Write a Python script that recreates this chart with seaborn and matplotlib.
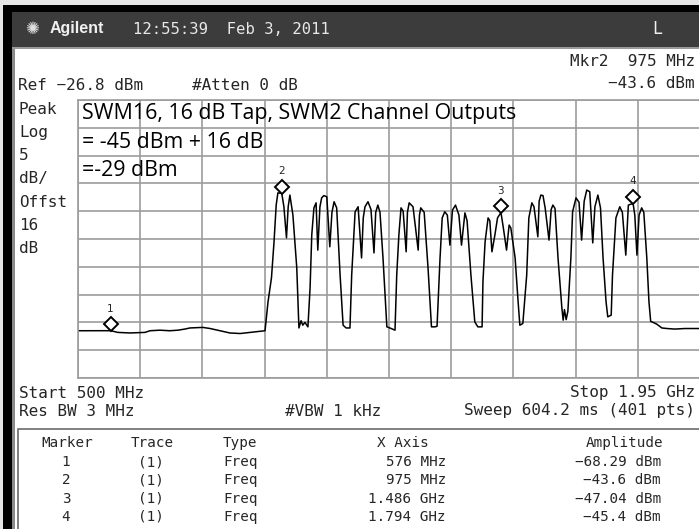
import matplotlib
matplotlib.use("Agg")
import numpy as np
import matplotlib.pyplot as plt
import matplotlib.transforms as mtransforms
from matplotlib.patches import Rectangle
import seaborn as sns

# Trace (MHz, dBm)
freq_mhz = [
    500, 576, 593, 621, 656, 668, 691, 714, 733, 749, 761, 791, 808, 831, 854, 878, 913, 936,
    943, 951, 957, 962, 966, 975, 980, 986, 990, 994, 1001, 1010, 1015, 1020, 1024, 1029, 1036,
    1041, 1045, 1050, 1055, 1059, 1064, 1068, 1073, 1080, 1087, 1092, 1097, 1103, 1111, 1118, 1125, 1134,
    1138, 1146, 1153, 1161, 1165, 1169, 1176, 1183, 1190, 1194, 1199, 1204, 1211, 1220, 1227, 1239,
    1243, 1248, 1253, 1258, 1265, 1268, 1272, 1276, 1281, 1293, 1296, 1299, 1307, 1316, 1324, 1332, 1337,
    1344, 1349, 1355, 1361, 1367, 1373, 1380, 1388, 1394, 1402, 1407, 1416, 1425, 1432, 1442,
    1444, 1449, 1456, 1460, 1465, 1472, 1478, 1486, 1491, 1499, 1505, 1509, 1519, 1526, 1530, 1537,
    1546, 1551, 1558, 1563, 1572, 1575, 1579, 1584, 1589, 1598, 1603, 1607, 1612, 1619, 1628, 1631, 1634, 1638, 1642,
    1649, 1653, 1661, 1668, 1674, 1680, 1686, 1693, 1700, 1705, 1712, 1718, 1724, 1731, 1735, 1743,
    1746, 1754, 1763, 1769, 1777, 1783, 1794, 1798, 1803, 1808, 1814, 1819, 1826, 1831, 1835, 1849, 1861, 1873, 1891, 1915, 1950,
]
level_dbm = [
    -68.3, -68.29, -68.6, -68.7, -68.6, -68.3, -68.2, -68.3, -68.2, -68.0, -67.8, -67.7, -67.9, -68.3, -68.7, -68.8, -68.5, -68.3,
    -63.1, -58.8, -52.3, -45.7, -43.5, -43.6, -46.0, -51.6, -46.0, -43.9, -47.5, -57.0, -67.8, -66.5, -67.3, -66.8, -67.6,
    -60.6, -51.0, -46.2, -45.3, -53.8, -46.0, -44.4, -44.0, -44.2, -53.2, -47.0, -45.1, -46.2, -58.3, -67.3, -67.8, -67.8,
    -58.3, -46.9, -46.0, -55.2, -48.0, -46.0, -45.1, -46.5, -54.3, -47.0, -45.7, -47.0, -55.2, -67.6, -67.8, -68.2,
    -58.3, -51.1, -46.2, -46.8, -54.1, -47.0, -45.3, -45.6, -46.0, -53.8, -47.5, -46.2, -47.0, -57.0, -67.6, -67.6, -67.5,
    -55.2, -48.0, -46.9, -47.5, -52.9, -46.6, -45.7, -47.5, -52.9, -47.1, -48.5, -58.3, -66.7, -67.6, -67.6,
    -59.5, -52.3, -48.0, -48.5, -54.1, -51.0, -48.0, -47.04, -49.5, -53.8, -49.3, -49.8, -55.2, -63.1, -67.3, -67.0,
    -58.3, -48.0, -45.3, -46.0, -51.4, -45.0, -43.9, -44.0, -46.2, -52.0, -46.5, -45.7, -46.3, -55.2, -64.2, -66.4, -64.5, -66.3, -64.8,
    -55.2, -46.9, -44.4, -45.2, -52.0, -45.0, -43.0, -43.3, -52.5, -46.0, -43.9, -46.2, -55.2, -63.1, -65.8, -65.5,
    -58.3, -48.0, -46.0, -47.0, -54.7, -45.7, -45.4, -47.5, -54.7, -47.5, -46.2, -47.0, -55.2, -63.1, -66.6, -67.1, -67.8, -67.9, -68.0, -67.9, -67.9,
]
assert len(freq_mhz) == len(level_dbm)

# Markers
marker_ids = ["1", "2", "3", "4"]
marker_freq = [576, 975, 1486, 1794]
marker_amp = [-68.29, -43.6, -47.04, -45.4]
marker_x_text = ["576 MHz", "975 MHz", "1.486 GHz", "1.794 GHz"]
marker_amp_text = ["\u221268.29 dBm", "\u221243.6 dBm", "\u221247.04 dBm", "\u221245.4 dBm"]

# Screen settings
start_mhz, stop_mhz = 500, 1950
ref_dbm = -26.8
db_per_div = 5
n_div = 10

note_lines = ["SWM16, 16 dB Tap, SWM2 Channel Outputs", "= -45 dBm + 16 dB", "=-29 dBm"]
left_labels = ["Peak", "Log", "5", "dB/", "Offst", "16", "dB"]

W, H = 699, 529
SCREEN_FONT = "DejaVu Sans Mono"

sns.set_style("white")
plt.rcParams["font.family"] = ["DejaVu Sans"]

fig = plt.figure(figsize=(W / 100, H / 100), dpi=100)
fig.patch.set_facecolor("white")


def fx(x):
    return x / W


def fy(y):
    return 1 - y / H


def box(x0, y0, x1, y1, **kw):
    fig.add_artist(Rectangle((fx(x0), fy(y1)), fx(x1) - fx(x0), fy(y0) - fy(y1),
                             transform=fig.transFigure, **kw))


def label(x, y, s, ha="left", size=11.5, family=SCREEN_FONT, **kw):
    fig.text(fx(x), fy(y), s, ha=ha, va="center", fontsize=size, family=family, **kw)


# frame of the screenshot
box(0, 0, W, 5, facecolor="#e6e6e6", edgecolor="none")
box(0, 5, W, 12, facecolor="black", edgecolor="none")
box(0, 0, 3, H, facecolor="#e6e6e6", edgecolor="none")
box(3, 5, 12, H, facecolor="black", edgecolor="none")
box(12, 12, 15, H, facecolor="#8a8a8a", edgecolor="none")
box(12, 12, W, 47, facecolor="#3c3c3c", edgecolor="none")
box(12, 47, W, 48.5, facecolor="#9a9a9a", edgecolor="none")

# title bar
label(32, 29, "\u273a", ha="center", size=12, family="DejaVu Sans", color="#e0e0e0")
label(50, 29, "Agilent", size=11.5, family="Liberation Sans", weight="bold", color="#f0f0f0")
label(133, 29, "12:55:39  Feb 3, 2011", size=11.2, color="#e8e8e8")
label(657, 29, "L", ha="center", size=12, color="#f0f0f0")

# header
label(695, 61, "Mkr2  975 MHz", ha="right")
label(18, 85, "Ref \u221226.8 dBm")
label(192, 85, "#Atten 0 dB")
label(695, 84, "\u221243.6 dBm", ha="right")
for i, s in enumerate(left_labels):
    label(19, 109 + i * 23.3, s)

# graticule
ax = fig.add_axes([fx(78), fy(378), fx(700) - fx(78), fy(100) - fy(378)])
ax.set_facecolor("white")
bottom_dbm = ref_dbm - db_per_div * n_div
ax.set_xlim(start_mhz, stop_mhz)
ax.set_ylim(bottom_dbm, ref_dbm)
ax.set_xticks(np.linspace(start_mhz, stop_mhz, n_div + 1))
ax.set_yticks(np.linspace(bottom_dbm, ref_dbm, n_div + 1))
ax.tick_params(length=0, labelbottom=False, labelleft=False)
ax.grid(True, color="#9c9c9c", linewidth=1.2)
for sp in ax.spines.values():
    sp.set_color("#9c9c9c")
    sp.set_linewidth(1.2)
ax.set_xlabel("")
ax.set_ylabel("")

sns.lineplot(x=freq_mhz, y=level_dbm, ax=ax, sort=False, estimator=None,
             color="black", linewidth=1.1)
ax.set_xlim(start_mhz, stop_mhz)
ax.set_ylim(bottom_dbm, ref_dbm)

dia_tr = mtransforms.offset_copy(ax.transData, fig=fig, x=0, y=6.5, units="dots")
num_tr = mtransforms.offset_copy(ax.transData, fig=fig, x=0, y=22, units="dots")
ax.plot(marker_freq, marker_amp, transform=dia_tr, linestyle="none", marker="D",
        markersize=7, markerfacecolor="white", markeredgecolor="black",
        markeredgewidth=1.4, zorder=5)
for mid, f, a in zip(marker_ids, marker_freq, marker_amp):
    ax.text(f, a, mid, transform=num_tr, ha="center", va="center",
            fontsize=7.5, family="DejaVu Sans", zorder=5)

for i, s in enumerate(note_lines):
    ax.text(fx(82), fy(113 + i * 29), s, transform=fig.transFigure, ha="left",
            va="center", fontsize=15.4, family="Open Sans", weight="medium",
            color="black", zorder=6)

# footer
label(19, 393, "Start 500 MHz")
label(695, 393, "Stop 1.95 GHz", ha="right")
label(19, 411, "Res BW 3 MHz")
label(285, 411, "#VBW 1 kHz")
label(695, 411, "Sweep 604.2 ms (401 pts)", ha="right")

# marker table
box(17.5, 429, W + 5, H + 5, facecolor="white", edgecolor="#6a6a6a", linewidth=1.2)
tsize = 10.3
label(67, 443, "Marker", ha="center", size=tsize)
label(152, 443, "Trace", ha="center", size=tsize)
label(223, 443, "Type", size=tsize)
label(403, 443, "X Axis", ha="center", size=tsize)
label(663, 443, "Amplitude", ha="right", size=tsize)
row_y = [462, 480, 499, 517]
for y, mid, xt, at in zip(row_y, marker_ids, marker_x_text, marker_amp_text):
    label(66, y, mid, ha="center", size=tsize)
    label(151, y, "(1)", ha="center", size=tsize)
    label(223, y, "Freq", size=tsize)
    label(446, y, xt, ha="right", size=tsize)
    label(661, y, at, ha="right", size=tsize)

fig.savefig("out.png", dpi=100)
